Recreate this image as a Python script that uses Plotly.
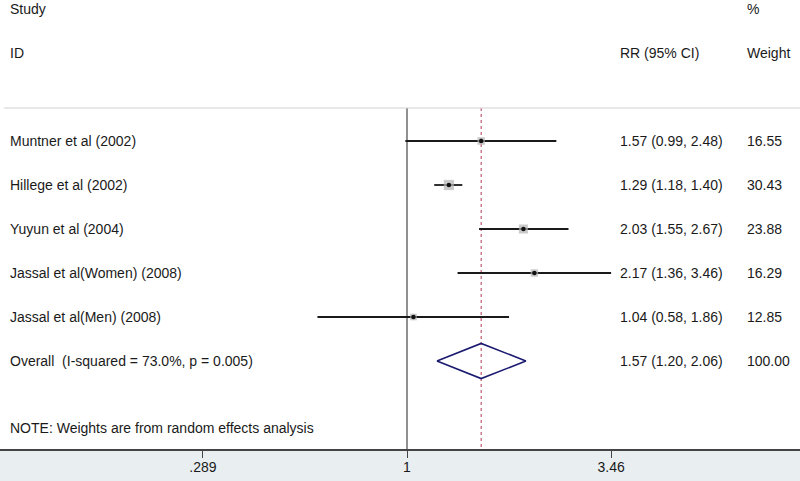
import math
import plotly.graph_objects as go

# study level data
studies = [
    "Muntner et al (2002)",
    "Hillege et al (2002)",
    "Yuyun et al (2004)",
    "Jassal et al(Women) (2008)",
    "Jassal et al(Men) (2008)",
]
rr = [1.57, 1.29, 2.03, 2.17, 1.04]
ci_low = [0.99, 1.18, 1.55, 1.36, 0.58]
ci_high = [2.48, 1.40, 2.67, 3.46, 1.86]
weights = [16.55, 30.43, 23.88, 16.29, 12.85]

overall_rr = 1.57
overall_low = 1.20
overall_high = 2.06
overall_weight = 100.00
overall_label = "Overall\u00a0\u00a0(I-squared = 73.0%, p = 0.005)"
note = "NOTE: Weights are from random effects analysis"

tick_vals = [0.289, 1, 3.46]
tick_text = [".289", "1", "3.46"]

FONT = "Liberation Sans, Arial, sans-serif"
rows = list(range(1, len(studies) + 1))
overall_row = len(studies) + 1
top_line = 0.25
bottom = 8

fig = go.Figure()

# null line at 1
fig.add_trace(go.Scatter(x=[1, 1], y=[top_line, bottom], mode="lines",
                         line=dict(color="#555555", width=1.3), hoverinfo="skip"))
# dashed line at overall estimate
fig.add_trace(go.Scatter(x=[overall_rr, overall_rr], y=[top_line, bottom], mode="lines",
                         line=dict(color="#b03a55", width=1, dash="3px,3px"), hoverinfo="skip"))

# confidence intervals
for r, lo, hi in zip(rows, ci_low, ci_high):
    fig.add_trace(go.Scatter(x=[lo, hi], y=[r, r], mode="lines",
                             line=dict(color="#1a1a1a", width=1.8), hoverinfo="skip"))

# weight boxes (area ~ weight) + point estimate
fig.add_trace(go.Scatter(x=rr, y=rows, mode="markers",
                         marker=dict(symbol="square", color="#b4b4b4",
                                     size=[1.85 * math.sqrt(w) for w in weights],
                                     line=dict(width=0)),
                         hoverinfo="skip"))
fig.add_trace(go.Scatter(x=rr, y=rows, mode="markers",
                         marker=dict(symbol="circle", color="#111111", size=4.5),
                         hoverinfo="skip"))

# overall diamond
fig.add_trace(go.Scatter(
    x=[overall_low, overall_rr, overall_high, overall_rr, overall_low],
    y=[overall_row, overall_row - 0.4, overall_row, overall_row + 0.4, overall_row],
    mode="lines", line=dict(color="#1a1a70", width=1.6), hoverinfo="skip"))

# header separator
fig.add_shape(type="line", xref="paper", yref="y", x0=0.005, x1=1, y0=top_line, y1=top_line,
              line=dict(color="#d2d2d2", width=1.2))

txt = dict(xref="paper", yref="y", showarrow=False, xanchor="left",
           font=dict(family=FONT, size=14, color="#1a1a1a"))

col_study, col_rr, col_w = 0.0102, 0.7725, 0.9315

fig.add_annotation(x=col_study, y=-2, text="Study", **txt)
fig.add_annotation(x=col_study, y=-1, text="ID", **txt)
fig.add_annotation(x=col_rr, y=-1, text="RR (95% CI)", **txt)
fig.add_annotation(x=col_w, y=-2, text="%", **txt)
fig.add_annotation(x=col_w, y=-1, text="Weight", **txt)

for r, name, e, lo, hi, w in zip(rows, studies, rr, ci_low, ci_high, weights):
    fig.add_annotation(x=col_study, y=r, text=name, **txt)
    fig.add_annotation(x=col_rr, y=r, text=f"{e:.2f} ({lo:.2f}, {hi:.2f})", **txt)
    fig.add_annotation(x=col_w, y=r, text=f"{w:.2f}", **txt)

fig.add_annotation(x=col_study, y=overall_row, text=overall_label, **txt)
fig.add_annotation(x=col_rr, y=overall_row,
                   text=f"{overall_rr:.2f} ({overall_low:.2f}, {overall_high:.2f})", **txt)
fig.add_annotation(x=col_w, y=overall_row, text=f"{overall_weight:.2f}", **txt)
fig.add_annotation(x=col_study, y=7.52, text=note, **txt)

fig.update_layout(
    width=800, height=481,
    margin=dict(l=0, r=0, t=0, b=32),
    paper_bgcolor="#e9eff1",
    plot_bgcolor="white",
    showlegend=False,
    xaxis=dict(type="log", range=[-1.075, 1.038], tickvals=tick_vals, ticktext=tick_text,
               showgrid=False, zeroline=False, showline=True, linecolor="#444444",
               linewidth=1.5, ticks="outside", ticklen=7, tickcolor="#444444",
               ticklabelstandoff=-3,
               tickfont=dict(family=FONT, size=14, color="#1a1a1a"), fixedrange=True),
    yaxis=dict(range=[bottom, -2.2045], visible=False, fixedrange=True),
)

# drop the default body margin so the 800x481 figure fills the window exactly
fig.write_html("out.html", config={"displayModeBar": False},
               post_script="document.body.style.margin='0';")
